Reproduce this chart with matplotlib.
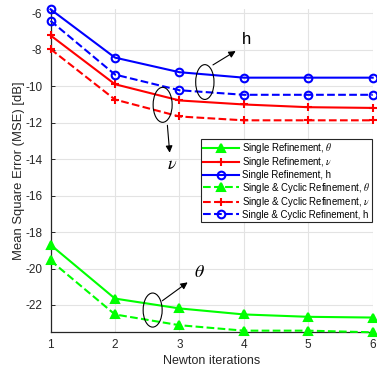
import matplotlib
matplotlib.use("Agg")
import matplotlib.pyplot as plt
from matplotlib.patches import Ellipse

plt.rcParams['font.family'] = ['Liberation Sans', 'DejaVu Sans']
plt.rcParams['mathtext.fontset'] = 'stix'

iterations = [1, 2, 3, 4, 5, 6]

single_theta = [-18.70, -21.65, -22.19, -22.52, -22.65, -22.69]
single_nu = [-7.21, -9.89, -10.78, -11.00, -11.15, -11.19]
single_h = [-5.78, -8.43, -9.23, -9.53, -9.53, -9.53]
cyclic_theta = [-19.56, -22.52, -23.11, -23.41, -23.41, -23.50]
cyclic_nu = [-7.96, -10.73, -11.66, -11.87, -11.87, -11.87]
cyclic_h = [-6.41, -9.36, -10.22, -10.47, -10.47, -10.47]

labels = [
    r"Single Refinement, $\theta$",
    r"Single Refinement, $\nu$",
    "Single Refinement, h",
    r"Single & Cyclic Refinement, $\theta$",
    r"Single & Cyclic Refinement, $\nu$",
    "Single & Cyclic Refinement, h",
]

yticks = [-22, -20, -18, -16, -14, -12, -10, -8, -6]

fig = plt.figure(figsize=(3.77, 3.68), dpi=100)
ax = fig.add_axes([0.134, 0.097, 0.8546, 0.8777])

series = [
    (single_theta, '#00ff00', '-', '^'),
    (single_nu, '#ff0000', '-', '+'),
    (single_h, '#0000ff', '-', 'o'),
    (cyclic_theta, '#00ff00', '--', '^'),
    (cyclic_nu, '#ff0000', '--', '+'),
    (cyclic_h, '#0000ff', '--', 'o'),
]
for (vals, col, ls, mk), lab in zip(series, labels):
    ms = 6 if mk == '^' else (6 if mk == '+' else 5.5)
    ax.plot(iterations, vals, color=col, linestyle=ls, marker=mk, lw=1.5,
            markersize=ms, markeredgewidth=1.5,
            markerfacecolor=col if mk == '^' else 'none',
            label=lab, clip_on=False, zorder=3)

all_vals = single_theta + single_nu + single_h + cyclic_theta + cyclic_nu + cyclic_h
ax.set_xlim(iterations[0], iterations[-1])
ax.set_ylim(min(all_vals), max(all_vals))
ax.set_xticks(iterations)
ax.set_yticks(yticks)
ax.set_yticklabels([str(t) for t in yticks])

ax.grid(True, color='#e3e3e3', lw=0.8)
ax.set_axisbelow(True)
for side in ('top', 'right'):
    ax.spines[side].set_visible(False)
for side in ('left', 'bottom'):
    ax.spines[side].set_color('#262626')
    ax.spines[side].set_linewidth(0.9)
ax.tick_params(direction='in', length=3, width=0.7, colors='#262626',
               labelsize=8.5, pad=6)
ax.tick_params(axis='x', length=0, pad=5)

ax.set_xlabel("Newton iterations", fontsize=9, color='#262626', labelpad=3)
ax.set_ylabel("Mean Square Error (MSE) [dB]", fontsize=9.4, color='#262626')
ax.yaxis.set_label_coords(-0.078, 0.5)

leg = ax.legend(loc='upper right', bbox_to_anchor=(0.9985, 0.60),
                fontsize=6.9, handlelength=3.7, handletextpad=0.3,
                borderpad=0.25, labelspacing=0.06, borderaxespad=0.0,
                fancybox=False, framealpha=1, edgecolor='#262626')
leg.get_frame().set_linewidth(0.8)

# groups of curves marked with ellipses and arrows
for cx, cy, w, h in [(3.395, -9.77, 0.284, 1.91),
                     (2.74, -11.02, 0.295, 1.92),
                     (2.585, -22.28, 0.295, 1.87)]:
    ax.add_patch(Ellipse((cx, cy), w, h, fill=False, ec='black', lw=0.8,
                         zorder=4))

arrow = dict(arrowstyle='-|>', color='black', lw=0.8, mutation_scale=10)
ax.annotate("", xy=(3.91, -7.99), xytext=(3.484, -8.91), arrowprops=arrow)
ax.annotate("", xy=(2.853, -13.8), xytext=(2.81, -11.99), arrowprops=arrow)
ax.annotate("", xy=(3.163, -20.67), xytext=(2.70, -21.86), arrowprops=arrow)

ax.text(4.04, -7.45, "h", fontsize=12, ha='center', va='center')
ax.text(2.88, -14.31, r"$\nu$", fontsize=13, ha='center', va='center')
ax.text(3.31, -20.23, r"$\theta$", fontsize=13, ha='center', va='center')

fig.savefig("out.png", dpi=100)
